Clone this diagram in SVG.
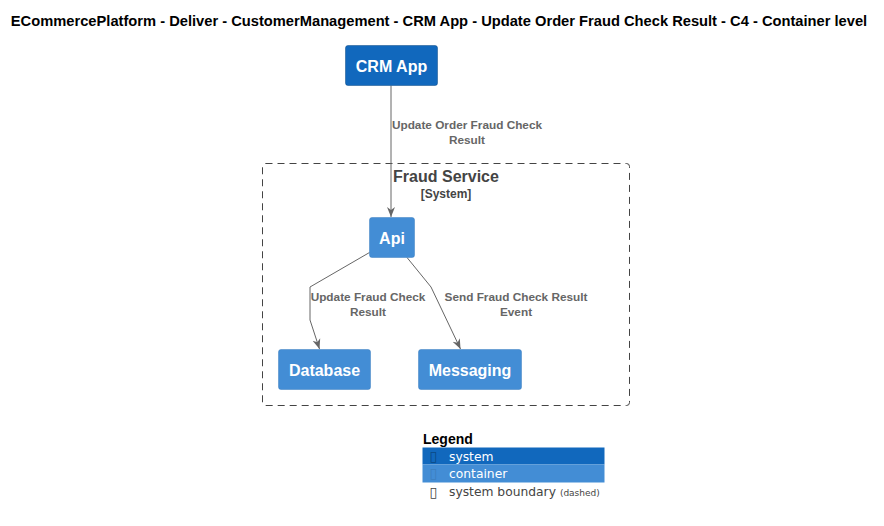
<svg xmlns="http://www.w3.org/2000/svg" width="884" height="526" viewBox="0 0 884 526">
<defs>
<style>
.title{font-family:"Liberation Sans",Arial,sans-serif;font-weight:bold;font-size:14.7px;fill:#000}
.nl{font-family:"Liberation Sans",Arial,sans-serif;font-weight:bold;font-size:16px;fill:#fff;text-anchor:middle}
.el{font-family:"Liberation Sans",Arial,sans-serif;font-weight:bold;font-size:11.8px;fill:#666;text-anchor:middle}
.conn{fill:none;stroke:#666;stroke-width:1}
.sys{fill:#1168BD;stroke:#0B4884;stroke-width:0.5}
.cont{fill:#438DD5;stroke:#3C7FC0;stroke-width:0.5}
.lg{font-family:"DejaVu Sans",Verdana,sans-serif;font-size:12.3px}
.tofu{font-family:"DejaVu Sans",Verdana,sans-serif;font-size:14px}
</style>
<marker id="arr" viewBox="0 0 10 10" refX="10" refY="5" markerWidth="10" markerHeight="10" markerUnits="userSpaceOnUse" orient="auto">
<path d="M0,1 L10,5 L0,9 L3,5 Z" fill="#666"/>
</marker>
</defs>
<rect width="884" height="526" fill="#fff"/>
<text class="title" x="439" y="25.5" text-anchor="middle">ECommercePlatform - Deliver - CustomerManagement - CRM App - Update Order Fraud Check Result - C4 - Container level</text>

<g id="fraud-service-boundary">
<rect x="262.5" y="163.5" width="367" height="242" rx="3" fill="none" stroke="#444" stroke-width="1" stroke-dasharray="7,5"/>
<text x="446" y="182" text-anchor="middle" font-family="Liberation Sans,Arial,sans-serif" font-weight="bold" font-size="16" fill="#444">Fraud Service</text>
<text x="446" y="198" text-anchor="middle" font-family="Liberation Sans,Arial,sans-serif" font-weight="bold" font-size="12" fill="#444">[System]</text>
</g>

<g id="connectors">
<line class="conn" x1="391" y1="85.5" x2="391" y2="217" marker-end="url(#arr)"/>
<text class="el" x="467" y="129">Update Order Fraud Check</text>
<text class="el" x="467" y="144">Result</text>
<polyline class="conn" points="369.5,252.5 310,287 310,320 319.5,349" marker-end="url(#arr)"/>
<text class="el" x="368" y="301">Update Fraud Check</text>
<text class="el" x="368" y="316">Result</text>
<polyline class="conn" points="407,257.5 431,287 460.5,349" marker-end="url(#arr)"/>
<text class="el" x="516" y="301">Send Fraud Check Result</text>
<text class="el" x="516" y="316">Event</text>
</g>

<g id="crm-app">
<rect class="sys" x="345.5" y="45.5" width="92" height="40" rx="2.5"/>
<text class="nl" x="391.5" y="71.5">CRM App</text>
</g>
<g id="api">
<rect class="cont" x="369.5" y="217.5" width="45" height="40" rx="2.5"/>
<text class="nl" x="392" y="243.5">Api</text>
</g>
<g id="database">
<rect class="cont" x="278.5" y="349.5" width="92" height="40" rx="2.5"/>
<text class="nl" x="324.5" y="375.5">Database</text>
</g>
<g id="messaging">
<rect class="cont" x="418.5" y="349.5" width="103" height="40" rx="2.5"/>
<text class="nl" x="470" y="375.5">Messaging</text>
</g>

<g id="legend">
<text x="423" y="444" font-family="Liberation Sans,Arial,sans-serif" font-weight="bold" font-size="14" fill="#000">Legend</text>
<rect x="422.5" y="447.5" width="182" height="17" fill="#1168BD"/>
<rect x="422.5" y="464.5" width="182" height="18" fill="#438DD5"/>
<text class="tofu" x="429.5" y="461" fill="#0B4884">▯</text>
<text class="lg" x="449" y="461" fill="#fff">system</text>
<text class="tofu" x="429.5" y="478" fill="#3C7FC0">▯</text>
<text class="lg" x="449" y="478" fill="#fff">container</text>
<text class="tofu" x="429.5" y="497" fill="#444">▯</text>
<text class="lg" x="449" y="496" fill="#444">system boundary <tspan font-size="9">(dashed)</tspan></text>
</g>
</svg>
